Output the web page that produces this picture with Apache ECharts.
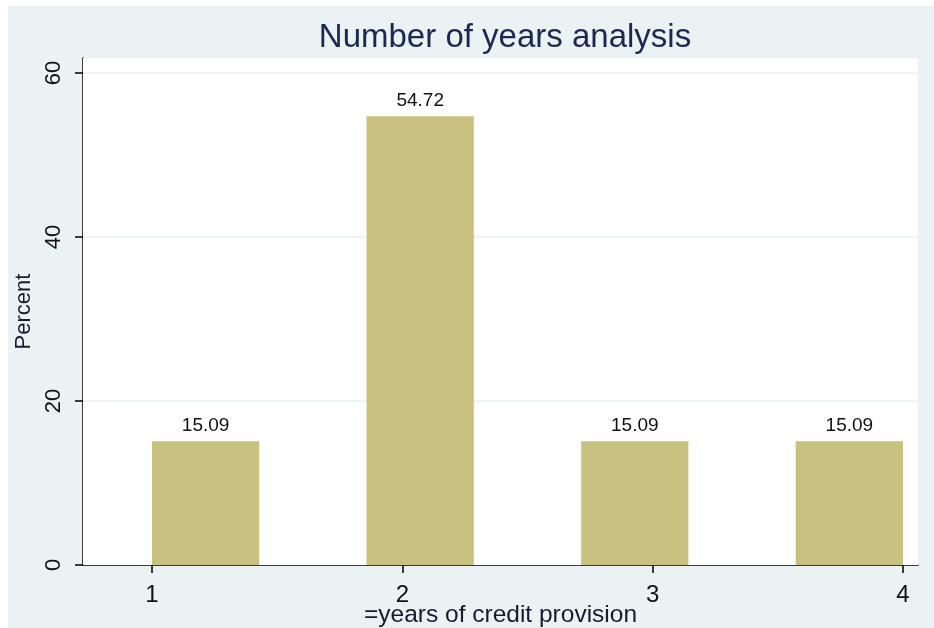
<!DOCTYPE html>
<html>
<head>
<meta charset="utf-8">
<script src="https://cdn.jsdelivr.net/npm/echarts@6/dist/echarts.min.js"></script>
<style>html,body{margin:0;padding:0;background:#fff;overflow:hidden}#c{width:934px;height:628px}</style>
</head>
<body>
<div id="c"></div>
<script>
// Histogram bins (x = years of credit provision), heights = percent
const binStarts = [1, 1.8571, 2.7143, 3.5714];
const binEnds   = [1.4286, 2.2857, 3.1429, 4];
const percents  = [15.09, 54.72, 15.09, 15.09];
const xTicks = [1, 2, 3, 4];
const yTicks = [0, 20, 40, 60];
const gridValues = [20, 40, 60];

const FONT = '"Liberation Sans", Arial, sans-serif';
const chart = echarts.init(document.getElementById('c'));
const data = binStarts.map((s, i) => [s, binEnds[i], percents[i]]);
const X_MIN = 0.7244, X_MAX = 4.06;

chart.setOption({
  backgroundColor: '#ffffff',
  animation: false,
  graphic: [{
    type: 'rect', z: -100, silent: true,
    shape: { x: 8, y: 6, width: 926, height: 622 },
    style: { fill: '#eaf2f3' }
  }],
  title: {
    text: 'Number of years analysis',
    left: 500, top: 16, textAlign: 'center',
    textStyle: { fontFamily: FONT, fontSize: 33, fontWeight: 'normal', color: '#1c2850' }
  },
  grid: {
    left: 83, right: 16, top: 58, bottom: 63,
    outerBoundsMode: 'none', containLabel: false,
    show: true, backgroundColor: '#ffffff', borderWidth: 0, z: 1
  },
  xAxis: {
    type: 'value', min: X_MIN, max: X_MAX,
    name: '=years of credit provision', nameLocation: 'middle', nameGap: 38,
    nameMoveOverlap: false,
    nameTextStyle: { fontFamily: FONT, fontSize: 24.5, color: '#1a1a2e', verticalAlign: 'top' },
    axisLine: { show: true, onZero: false, lineStyle: { color: '#000', width: 1.5 } },
    axisTick: { show: true, length: 8, customValues: xTicks, lineStyle: { color: '#000', width: 1.5 } },
    axisLabel: { customValues: xTicks, margin: 18, fontFamily: FONT, fontSize: 24, color: '#111' },
    splitLine: { show: false }
  },
  yAxis: {
    type: 'value', min: 0, max: 61.83,
    name: 'Percent', nameLocation: 'middle', nameGap: 48, nameRotate: 90,
    nameMoveOverlap: false,
    nameTextStyle: { fontFamily: FONT, fontSize: 22, color: '#1a1a2e' },
    axisLine: { show: true, onZero: false, lineStyle: { color: '#000', width: 1.5 } },
    axisTick: { show: true, length: 8, customValues: yTicks, lineStyle: { color: '#000', width: 1.5 } },
    axisLabel: { customValues: yTicks, rotate: 90, margin: 18, fontFamily: FONT, fontSize: 22, color: '#111' },
    splitLine: { show: false }
  },
  series: [{
    type: 'custom',
    data: gridValues,
    encode: { y: 0 },
    silent: true,
    z: 1,
    renderItem: function (params, api) {
      const v = api.value(0);
      const a = api.coord([X_MIN, v]);
      const b = api.coord([X_MAX, v]);
      return { type: 'line', shape: { x1: a[0], y1: a[1], x2: b[0], y2: b[1] },
               style: { stroke: '#e6eff1', lineWidth: 1.5 } };
    }
  }, {
    type: 'custom',
    data: data,
    encode: { x: [0, 1], y: 2 },
    z: 2,
    renderItem: function (params, api) {
      const x0 = api.value(0), x1 = api.value(1), y = api.value(2);
      const p0 = api.coord([x0, 0]);
      const p1 = api.coord([x1, y]);
      return {
        type: 'group',
        children: [
          { type: 'rect',
            shape: { x: p0[0], y: p1[1], width: p1[0] - p0[0], height: p0[1] - p1[1] },
            style: { fill: '#c9c17f' } },
          { type: 'text',
            x: (p0[0] + p1[0]) / 2, y: p1[1] - 6,
            style: { text: y.toFixed(2), align: 'center', verticalAlign: 'bottom',
                     fill: '#111', fontFamily: FONT, fontSize: 19 } }
        ]
      };
    }
  }]
});
</script>
</body>
</html>
